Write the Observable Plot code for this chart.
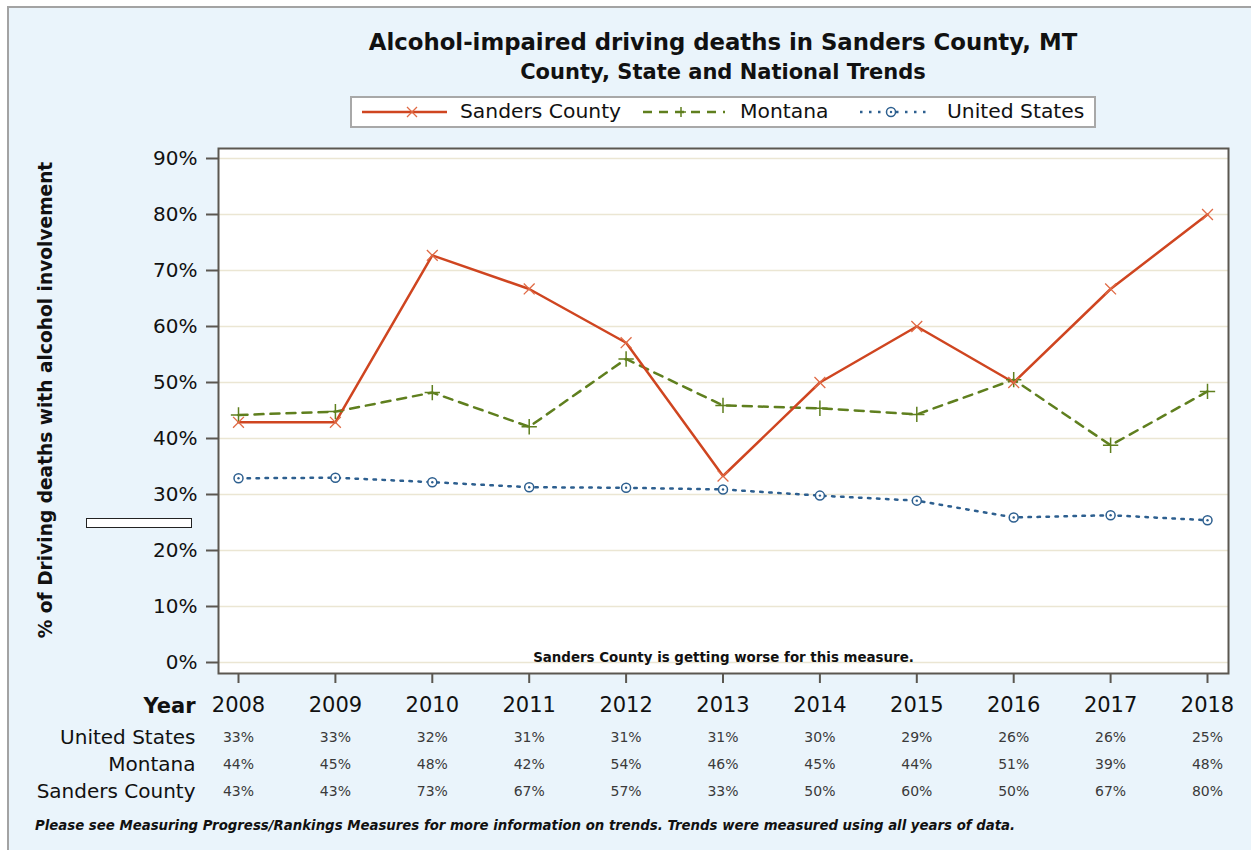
<!DOCTYPE html>
<html><head><meta charset="utf-8">
<script src="https://cdn.jsdelivr.net/npm/d3@7"></script>
<script src="https://cdn.jsdelivr.net/npm/@observablehq/plot@0.6"></script>
<style>
body{margin:0;width:1251px;height:850px;overflow:hidden;background:#fff;font-family:"DejaVu Sans",sans-serif;position:relative;}
#bg{position:absolute;left:7px;top:6px;width:1260px;height:860px;background:#eaf4fb;border-left:2px solid #a3a3a3;border-top:2px solid #a3a3a3;}
.abs{position:absolute;white-space:nowrap;}
#title{left:218px;width:1010px;top:29px;text-align:center;font-weight:bold;font-size:22.8px;color:#111;}
#subtitle{left:218px;width:1010px;top:60px;text-align:center;font-weight:bold;font-size:21px;color:#111;}
#legend{left:350px;top:96px;width:742px;height:28px;background:#fff;border:2px solid #a8a8a8;}
#legend .t{position:absolute;top:1px;font-size:20.3px;color:#111;}
#ylab{left:45px;top:400px;transform:translate(-50%,-50%) rotate(-90deg);font-weight:bold;font-size:18.6px;color:#111;}
#foot{left:35px;top:818px;font-weight:bold;font-style:italic;font-size:13.3px;color:#111;}
#artifact{left:86px;top:518px;width:104px;height:8px;background:#fff;border:1px solid #222;}
#chart{position:absolute;left:0;top:0;}
</style></head>
<body>
<div id="bg"></div>
<div id="artifact" class="abs"></div>
<div id="chart"></div>
<div id="title" class="abs">Alcohol-impaired driving deaths in Sanders County, MT</div>
<div id="subtitle" class="abs">County, State and National Trends</div>
<div id="legend" class="abs">
  <svg class="abs" style="left:0;top:0" width="742" height="28">
    <line x1="10" x2="95" y1="14" y2="14" stroke="#cf4520" stroke-width="2.5"/>
    <path d="M55,9L65,19M55,19L65,9" stroke="#e06a45" stroke-width="1.3"/>
    <line x1="291" x2="373" y1="14" y2="14" stroke="#5f7f1e" stroke-width="2.5" stroke-dasharray="9,7"/>
    <path d="M329,9V19M324,14H334" stroke="#5f7f1e" stroke-width="1.5"/>
    <line x1="508" x2="580" y1="14" y2="14" stroke="#2d5f8f" stroke-width="2.5" stroke-dasharray="2.5,6.5"/>
    <circle cx="539" cy="14" r="4.5" fill="#fff" stroke="#2d5f8f" stroke-width="1.5"/>
    <circle cx="539" cy="14" r="1.2" fill="#2d5f8f"/>
  </svg>
  <div class="t" style="left:108px">Sanders County</div>
  <div class="t" style="left:388px">Montana</div>
  <div class="t" style="left:595px">United States</div>
</div>
<div id="ylab" class="abs">% of Driving deaths with alcohol involvement</div>
<div id="foot" class="abs">Please see Measuring Progress/Rankings Measures for more information on trends. Trends were measured using all years of data.</div>
<script>
const years = [2008, 2009, 2010, 2011, 2012, 2013, 2014, 2015, 2016, 2017, 2018];
const sanders = [42.9, 42.9, 72.7, 66.7, 57.1, 33.3, 50.0, 60.0, 50.0, 66.7, 80.0];
const montana = [44.2, 44.8, 48.2, 42.1, 54.2, 45.9, 45.4, 44.3, 50.5, 38.8, 48.4];
const unitedStates = [32.9, 33.0, 32.2, 31.3, 31.2, 30.9, 29.8, 28.9, 25.9, 26.3, 25.4];
const sandersLabels = ["43%", "43%", "73%", "67%", "57%", "33%", "50%", "60%", "50%", "67%", "80%"];
const montanaLabels = ["44%", "45%", "48%", "42%", "54%", "46%", "45%", "44%", "51%", "39%", "48%"];
const usLabels = ["33%", "33%", "32%", "31%", "31%", "31%", "30%", "29%", "26%", "26%", "25%"];
const yTicks = [0, 10, 20, 30, 40, 50, 60, 70, 80, 90];
const rowNames = ["United States", "Montana", "Sanders County"];
const note = "Sanders County is getting worse for this measure.";

const rows = (vals, labels) => years.map((yr, i) => ({year: yr, value: vals[i], label: labels[i]}));
const sRows = rows(sanders, sandersLabels);
const mRows = rows(montana, montanaLabels);
const uRows = rows(unitedStates, usLabels);

const axisColor = "#5b5750";
const valueStyle = {x: "year", text: "label", frameAnchor: "bottom", lineAnchor: "middle", fontSize: 14, fill: "#3a3a3a"};
const rowStyle = {frameAnchor: "bottom-left", lineAnchor: "middle", textAnchor: "end", dx: -23, fontSize: 20, fill: "#111"};

const chart = Plot.plot({
  width: 1251, height: 850,
  marginTop: 148, marginBottom: 177, marginLeft: 218, marginRight: 23,
  x: {domain: [2008, 2018], insetLeft: 20, insetRight: 21},
  y: {domain: [0, 90], insetTop: 10, insetBottom: 11},
  style: {background: "transparent", fontFamily: "DejaVu Sans", overflow: "visible", color: "#111"},
  marks: [
    Plot.frame({fill: "white"}),
    Plot.gridY({ticks: yTicks, stroke: "#ebe6d3", strokeOpacity: 1, strokeWidth: 1.5}),
    Plot.axisY({ticks: yTicks, tickFormat: d => d + "%", tickSize: 12, tickPadding: 9, fontSize: 20, stroke: axisColor, strokeWidth: 2, strokeOpacity: 1, label: null}),
    Plot.axisX({ticks: years, tickFormat: d => String(d), tickSize: 10, tickPadding: 14, fontSize: 21, stroke: axisColor, strokeWidth: 2, strokeOpacity: 1, label: null}),
    Plot.line(uRows, {x: "year", y: "value", stroke: "#2d5f8f", strokeWidth: 2.5, strokeDasharray: "2.5,6.5"}),
    Plot.line(mRows, {x: "year", y: "value", stroke: "#5f7f1e", strokeWidth: 2.5, strokeDasharray: "9,7"}),
    Plot.line(sRows, {x: "year", y: "value", stroke: "#cf4520", strokeWidth: 2.5}),
    Plot.dot(uRows, {x: "year", y: "value", r: 4.5, fill: "white", stroke: "#2d5f8f", strokeWidth: 1.5}),
    Plot.dot(uRows, {x: "year", y: "value", r: 1.2, fill: "#2d5f8f"}),
    Plot.dot(mRows, {x: "year", y: "value", symbol: "plus", r: 5, stroke: "#5f7f1e", strokeWidth: 1.5}),
    Plot.dot(sRows, {x: "year", y: "value", symbol: "times", r: 5, stroke: "#e06a45", strokeWidth: 1.3}),
    Plot.frame({stroke: axisColor, strokeWidth: 2}),
    Plot.text([note], {text: d => d, frameAnchor: "bottom", lineAnchor: "middle", dy: -16, fontSize: 13.4, fontWeight: "bold", fill: "#111"}),
    Plot.text(["Year"], {...rowStyle, text: d => d, dy: 33, fontSize: 21, fontWeight: "bold"}),
    Plot.text([rowNames[0]], {...rowStyle, text: d => d, dy: 64}),
    Plot.text([rowNames[1]], {...rowStyle, text: d => d, dy: 91}),
    Plot.text([rowNames[2]], {...rowStyle, text: d => d, dy: 118}),
    Plot.text(uRows, {...valueStyle, dy: 64}),
    Plot.text(mRows, {...valueStyle, dy: 91}),
    Plot.text(sRows, {...valueStyle, dy: 118})
  ]
});
document.getElementById("chart").appendChild(chart);
</script>
</body></html>
